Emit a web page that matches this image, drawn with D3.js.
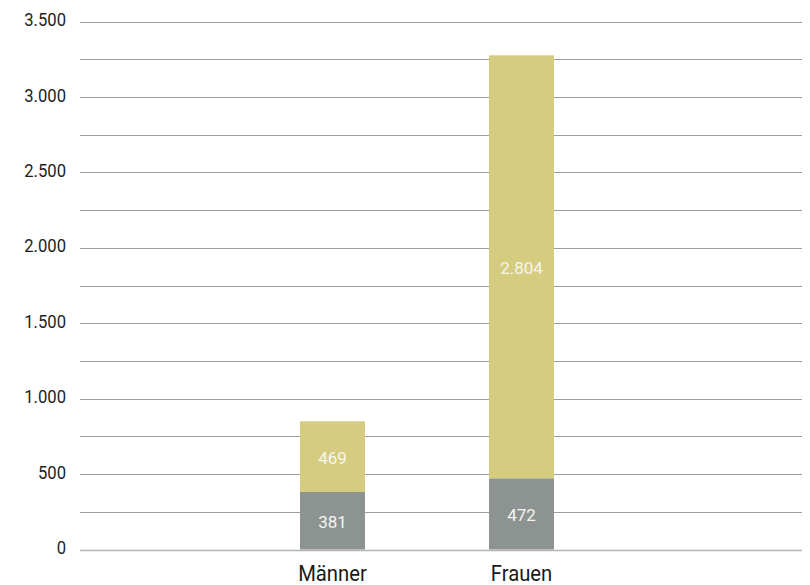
<!DOCTYPE html>
<html>
<head>
<meta charset="utf-8">
<script src="https://cdn.jsdelivr.net/npm/d3@7"></script>
<style>
  html, body { margin: 0; padding: 0; background: #fff; }
  svg text { font-family: "Roboto", "DejaVu Sans Condensed", sans-serif; }
</style>
</head>
<body>
<svg id="chart" width="810" height="585"></svg>
<script>
// Gruppen und Werte (gestapelt: unten / oben)
const categories = ["Männer", "Frauen"];
const lowerValues = [381, 472];
const upperValues = [469, 2804];
const tickValues = [0, 500, 1000, 1500, 2000, 2500, 3000, 3500];
const gridValues = d3.range(0, 3501, 250);

const svg = d3.select("#chart");
const plotLeft = 80, plotRight = 802, plotTop = 21.5, plotBottom = 549.5;

const y = d3.scaleLinear().domain([0, 3500]).range([plotBottom, plotTop]);
const x = d3.scaleBand().domain(categories).range([238, 616])
  .paddingInner(0.656).paddingOuter(0.328);

const fmt = v => d3.format(",")(v).replace(/,/g, ".");

// Gitterlinien
svg.append("g").selectAll("line").data(gridValues).join("line")
  .attr("x1", plotLeft).attr("x2", plotRight)
  .attr("y1", d => Math.round(y(d)) + 0.5).attr("y2", d => Math.round(y(d)) + 0.5)
  .attr("stroke", d => d === 0 ? "#b4b4b4" : "#9c9c9c")
  .attr("stroke-width", d => d === 0 ? 1.6 : 1);

// Y-Achse
const yAxis = d3.axisLeft(y).tickValues(tickValues).tickSize(0).tickPadding(0).tickFormat(fmt);
const gy = svg.append("g").attr("transform", "translate(66,-1.5)").call(yAxis);
gy.select(".domain").remove();
gy.selectAll("text").attr("font-size", 17.5).attr("fill", "#1e1e1e")
  .attr("font-family", "Roboto, sans-serif")
  .attr("transform", "scale(0.95,1)");

// Balken
const stacks = categories.map((c, i) => ({ c, lo: lowerValues[i], up: upperValues[i] }));
const g = svg.append("g");
g.selectAll("rect.lo").data(stacks).join("rect").attr("class", "lo")
  .attr("x", d => x(d.c)).attr("width", x.bandwidth())
  .attr("y", d => y(d.lo)).attr("height", d => y(0) - y(d.lo))
  .attr("fill", "#8c9391");
g.selectAll("rect.up").data(stacks).join("rect").attr("class", "up")
  .attr("x", d => x(d.c)).attr("width", x.bandwidth())
  .attr("y", d => y(d.lo + d.up)).attr("height", d => y(d.lo) - y(d.lo + d.up))
  .attr("fill", "#d6cc80");

// Wertbeschriftungen
const labelFont = "Roboto, sans-serif";
g.selectAll("text.lo").data(stacks).join("text").attr("class", "lo")
  .attr("x", d => x(d.c) + x.bandwidth() / 2).attr("y", d => y(d.lo / 2) + 1.5)
  .attr("dy", "0.35em").attr("text-anchor", "middle").attr("font-family", labelFont)
  .attr("font-size", 17).attr("fill", "#f6f6ef").text(d => fmt(d.lo));
g.selectAll("text.up").data(stacks).join("text").attr("class", "up")
  .attr("x", d => x(d.c) + x.bandwidth() / 2).attr("y", d => y(d.lo + d.up / 2) + 1.5)
  .attr("dy", "0.35em").attr("text-anchor", "middle").attr("font-family", labelFont)
  .attr("font-size", 17).attr("fill", "#f6f6ef").text(d => fmt(d.up));

// X-Achse
const xAxis = d3.axisBottom(x).tickSize(0).tickPadding(0);
const gx = svg.append("g").attr("transform", "translate(0,581)").call(xAxis);
gx.select(".domain").remove();
gx.selectAll(".tick text").attr("font-size", 22.5).attr("fill", "#1a1a1a").attr("dy", 0)
  .attr("font-family", "Roboto, sans-serif")
  .attr("transform", "scale(0.9,1)");
// Skalierung um die Tick-Mitte
gx.selectAll(".tick").each(function (d) {
  const cx = x(d) + x.bandwidth() / 2;
  d3.select(this).attr("transform", `translate(${cx},0)`);
});
</script>
</body>
</html>
